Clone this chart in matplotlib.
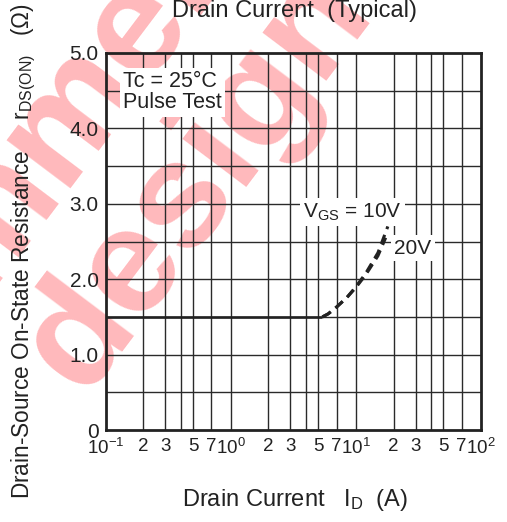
import matplotlib
matplotlib.use("Agg")
import matplotlib.pyplot as plt
import numpy as np

plt.rcParams['font.family'] = ['Liberation Sans', 'DejaVu Sans']
plt.rcParams['mathtext.fontset'] = 'custom'
plt.rcParams['mathtext.rm'] = 'Liberation Sans'
plt.rcParams['mathtext.it'] = 'Liberation Sans'
plt.rcParams['mathtext.bf'] = 'Liberation Sans:bold'

# ---- data ----
flat_x = [0.1, 5.4]
flat_y = [1.5, 1.5]
v10_x = [5.4, 6.0, 7.0, 8.5, 10, 12, 15, 18]
v10_y = [1.5, 1.54, 1.63, 1.76, 1.90, 2.08, 2.35, 2.70]
v20_x = [5.4, 6.0, 7.0, 8.5, 10, 12, 15, 17.3]
v20_y = [1.5, 1.54, 1.63, 1.76, 1.89, 2.06, 2.31, 2.55]

xtick_vals = [0.1, 0.2, 0.3, 0.5, 0.7, 1, 2, 3, 5, 7, 10, 20, 30, 50, 70, 100]
xtick_labels = [r'$\mathregular{10^{-1}}$', '2', '3', '5', '7', r'$\mathregular{10^{0}}$',
                '2', '3', '5', '7', r'$\mathregular{10^{1}}$', '2', '3', '5', '7',
                r'$\mathregular{10^{2}}$']
ytick_vals = [0, 1, 2, 3, 4, 5]
ytick_labels = ['0', '1.0', '2.0', '3.0', '4.0', '5.0']
grid_mult = [2, 3, 4, 5, 7]

W, H = 507, 522
fig = plt.figure(figsize=(W / 100, H / 100), dpi=100)

# watermark (behind everything)
wm_kw = dict(color=(1.0, 0.0, 0.05), alpha=0.28, fontsize=108, fontweight='bold',
             rotation=53, rotation_mode='anchor', ha='center', va='center', zorder=-5,
             family='Liberation Sans', clip_on=False)
fig.text(198 / W, 1 - 180 / H, 'design', **wm_kw)
fig.text(52 / W, 1 - 135 / H, 'Recommended', **wm_kw)

ax = fig.add_axes([105.7 / W, 1 - 430 / H, 375.3 / W, 377 / H])
ax.patch.set_alpha(0)
ax.set_xscale('log')
ax.set_xlim(0.1, 100)
ax.set_ylim(0, 5)

# grid
for e in (-1, 0, 1):
    for m in [1] + grid_mult:
        xv = m * 10.0 ** e
        if 0.1 < xv < 100:
            ax.axvline(xv, color='#2a2a2a', lw=1.0, zorder=1)
for yv in np.arange(0.5, 5.0, 0.5):
    ax.axhline(yv, color='#2a2a2a', lw=1.0, zorder=1)

ax.plot(flat_x, flat_y, color='#222222', lw=1.9, solid_capstyle='butt', zorder=3)
ax.plot(v10_x, v10_y, color='#222222', lw=2.2, dashes=(3.2, 2.0), zorder=3)
ax.plot(v20_x, v20_y, color='#222222', lw=2.2, dashes=(3.2, 2.0), zorder=3)

ax.set_xticks(xtick_vals)
ax.set_xticklabels(xtick_labels)
ax.set_xticks([], minor=True)
ax.set_yticks(ytick_vals)
ax.set_yticklabels(ytick_labels)
ax.tick_params(axis='x', length=0, labelsize=13.5, colors='#222222', pad=6)
ax.tick_params(axis='y', length=0, labelsize=15, colors='#222222', pad=5)
for s in ax.spines.values():
    s.set_linewidth(2.0)
    s.set_color('#222222')
    s.set_zorder(5)

bb = dict(facecolor='white', edgecolor='none', pad=2.5)
ax.text(0.1375, 4.76, 'Tc = 25°C\nPulse Test', fontsize=15.5, color='#222222',
        ha='left', va='top', linespacing=1.0, bbox=bb, zorder=4)
ax.text(9.4, 2.89, r'V$_{\mathregular{GS}}$ = 10V', fontsize=15, color='#222222',
        ha='center', va='center', bbox=bb, zorder=4)
ax.text(28.4, 2.41, '20V', fontsize=15, color='#222222',
        ha='center', va='center', bbox=bb, zorder=4)

fig.text(295 / W, 1 - 11 / H, 'Drain Current  (Typical)', fontsize=17,
         color='#222222', ha='center', va='center')
fig.text(295 / W, 1 - 500 / H, r'Drain Current   I$_{\mathregular{D}}$  (A)', fontsize=17,
         color='#222222', ha='center', va='center')
fig.text(24 / W, 1 - 251 / H,
         r'Drain-Source On-State Resistance     r$_{\mathregular{DS(ON)}}$   (Ω)',
         fontsize=16.3, color='#222222', ha='center', va='center', rotation=90)

fig.savefig('out.png', dpi=100)
